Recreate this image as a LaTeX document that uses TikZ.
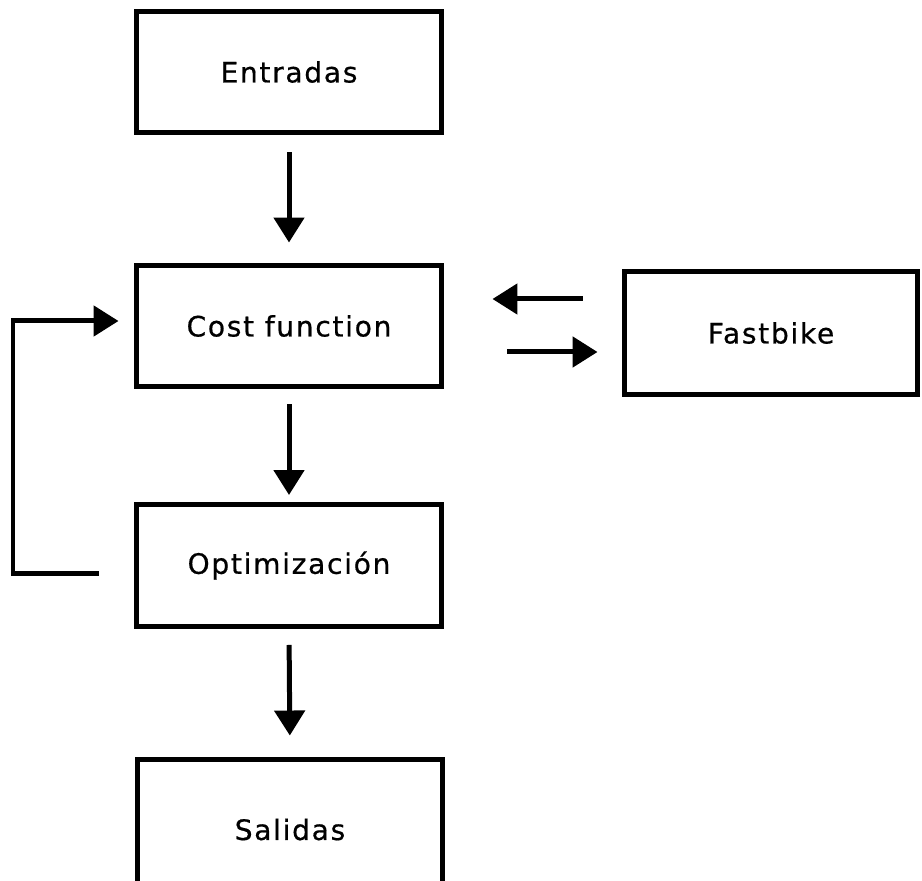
\documentclass[tikz,border=0pt]{standalone}
\usepackage{fontspec}
\newfontfamily\boxfont[LetterSpace=6,FakeBold=0.6]{DejaVu Sans}
\usetikzlibrary{arrows.meta,positioning}

\begin{document}
\begin{tikzpicture}[x=0.02cm, y=-0.02cm,
    caja/.style={draw, line width=0.1cm, minimum width=6.12cm, minimum height=2.44cm,
      font=\boxfont\fontsize{16}{19}\selectfont},
    flecha/.style={line width=0.1cm, -{Triangle[length=0.5cm,width=0.6cm]}}]
    \useasboundingbox (0,0) rectangle (922,881);

    \node[caja] (entradas) at (289,72) {Entradas};
    \node[caja] (cost) at (289,326) {Cost function};
    \node[caja] (optim) at (289,565.5) {Optimización};
    \node[caja, minimum height=2.82cm] (salidas) at (290,829.5) {Salidas};
    \node[caja, minimum width=5.88cm, minimum height=2.48cm] (fastbike) at (771,333) {Fastbike};

    \draw[flecha, shorten <=0.34cm, shorten >=0.4cm] (entradas.south) -- (cost.north);
    \draw[flecha, shorten <=0.3cm, shorten >=0.14cm] (cost.south) -- (optim.north);
    \draw[flecha, shorten <=0.32cm, shorten >=0.42cm] (optim.south) -- (salidas.north);

    \draw[flecha, shorten <=0.78cm, shorten >=0.96cm] (fastbike.west |- 0,299) -- (cost.east |- 0,299);
    \draw[flecha, shorten <=1.26cm, shorten >=0.48cm] (cost.east |- 0,352) -- (fastbike.west |- 0,352);

    % lazo de optimizacion
    \draw[flecha, shorten <=0.7cm, shorten >=0.3cm]
      (optim.west |- 0,573) -- (13,573) -- (13,321) -- (cost.west |- 0,321);

\end{tikzpicture}
\end{document}
